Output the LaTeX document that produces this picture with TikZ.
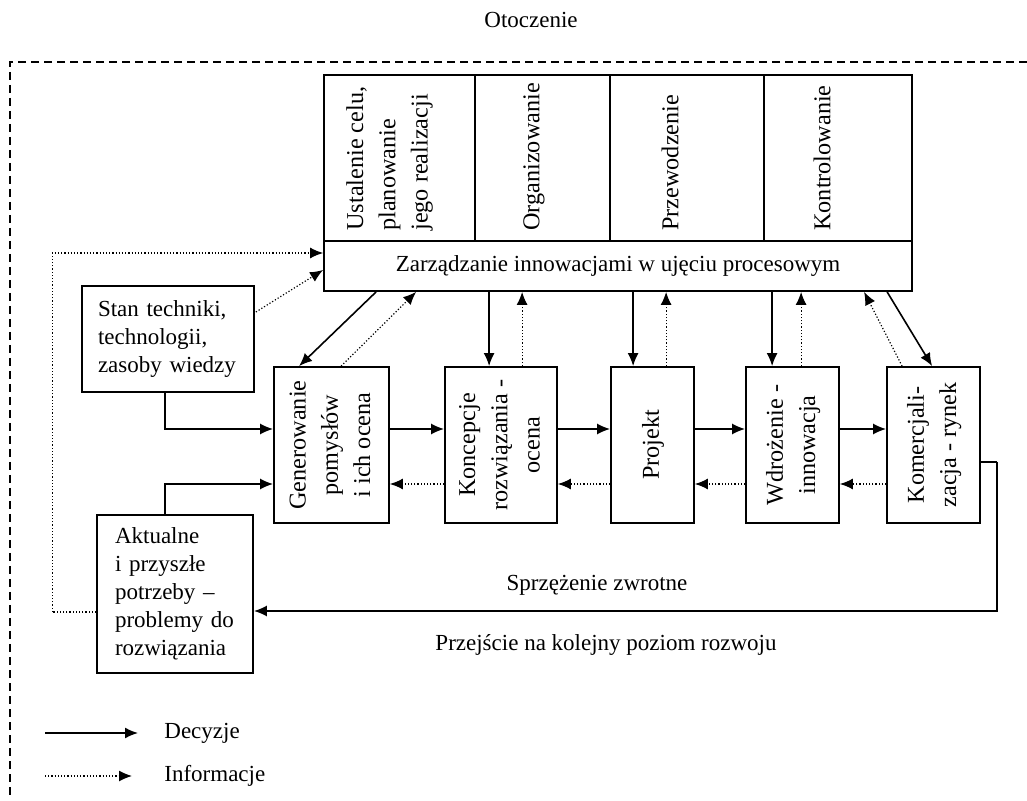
\documentclass[tikz,border=0pt]{standalone}
\usepackage{fontspec}
\setmainfont{Liberation Serif}
\usetikzlibrary{arrows.meta,calc}
% vertical (rotated) multi-line text
\newcommand{\vtext}[2][c]{\rotatebox{90}{\fontsize{12.1}{14}\selectfont\renewcommand{\arraystretch}{1.15}\begin{tabular}{@{}#1@{}}#2\end{tabular}}}

\begin{document}
\begin{tikzpicture}[x=0.5pt,y=-0.5pt,
  every node/.style={font=\fontsize{11.5}{14}\selectfont},
  box/.style={draw, line width=0.9pt, inner sep=0pt},
  label/.style={inner sep=0pt},
  dec/.style={line width=0.8pt, -{Latex[length=6.5pt,width=5.5pt]}},
  inf/.style={line width=0.6pt, dash pattern=on 0.6pt off 1pt, -{Latex[length=6.5pt,width=5.5pt]}},
  fb/.style={line width=0.8pt},
  frame/.style={line width=0.6pt, dash pattern=on 4pt off 2.5pt}]
\useasboundingbox (0,0) rectangle (1027,801);

% environment frame
\node[label] (env) at (531,20) {Otoczenie};
\draw[frame] (1027,62) -- (10,62) -- (10,795);

% management functions
\node[box, minimum width=75.5pt, minimum height=83pt] (c1) at (399.5,158) {};
\node[box, minimum width=67.5pt, minimum height=83pt] (c2) at (542.5,158) {};
\node[box, minimum width=77pt, minimum height=83pt] (c3) at (687,158) {};
\node[box, minimum width=74pt, minimum height=83pt] (c4) at (838,158) {};
\node[label, anchor=south] (t1) at (389,231) {\vtext[l]{Ustalenie celu,\\planowanie\\jego realizacji}};
\node[label, anchor=south] (t2) at (533,231) {\vtext{Organizowanie}};
\node[label, anchor=south] (t3) at (672,231) {\vtext{Przewodzenie}};
\node[label, anchor=south] (t4) at (824,231) {\vtext{Kontrolowanie}};
\node[box, minimum width=294pt, minimum height=25pt] (bar) at (618,266) {Zarządzanie innowacjami w ujęciu procesowym};

% innovation process stages
\node[box, minimum width=57.5pt, minimum height=78pt] (gen) at (331.5,445) {\vtext{Generowanie\\pomysłów\\i ich ocena}};
\node[box, minimum width=56pt, minimum height=78pt] (konc) at (501,445) {\vtext{Koncepcje\\rozwiązania -\\ocena}};
\node[box, minimum width=41.5pt, minimum height=78pt] (proj) at (652.5,445) {\vtext{Projekt}};
\node[box, minimum width=46.5pt, minimum height=78pt] (wdr) at (792.5,445) {\vtext{Wdrożenie -\\innowacja}};
\node[box, minimum width=46.5pt, minimum height=78pt] (kom) at (933.5,445) {\vtext{Komercjali-\\zacja - rynek}};

% inputs
\node[box, minimum width=86pt, minimum height=53pt, text width=70pt, align=left, inner xsep=8pt] (stan) at (168,339) {Stan techniki,\\technologii,\\zasoby wiedzy};
\node[box, minimum width=78pt, minimum height=79pt, text width=60pt, align=left, inner xsep=9pt] (akt) at (175,594) {Aktualne\\i przyszłe\\potrzeby –\\problemy do\\rozwiązania};

% decisions and information between management and stages
\draw[dec] ($(bar.south west)+(53,0)$) -- ($(gen.north west)+(26,0)$);
\draw[inf] ($(gen.north west)+(68,0)$) -- ($(bar.south west)+(93,0)$);
\draw[dec] ($(bar.south west)+(166,0)$) -- ($(konc.north west)+(45,0)$);
\draw[inf] ($(konc.north west)+(78,0)$) -- ($(bar.south west)+(199,0)$);
\draw[dec] ($(bar.south west)+(310,0)$) -- ($(proj.north west)+(23,0)$);
\draw[inf] ($(proj.north west)+(56,0)$) -- ($(bar.south west)+(343,0)$);
\draw[dec] ($(bar.south west)+(449,0)$) -- ($(wdr.north west)+(27,0)$);
\draw[inf] ($(wdr.north west)+(56,0)$) -- ($(bar.south west)+(478,0)$);
\draw[inf] ($(kom.north west)+(16,0)$) -- ($(bar.south west)+(541,0)$);
\draw[dec] ($(bar.south west)+(564,0)$) -- ($(kom.north west)+(46,0)$);

% flow between stages
\draw[dec] ($(gen.east)+(0,-16)$) -- ($(konc.west)+(0,-16)$);
\draw[dec] ($(konc.east)+(0,-16)$) -- ($(proj.west)+(0,-16)$);
\draw[dec] ($(proj.east)+(0,-16)$) -- ($(wdr.west)+(0,-16)$);
\draw[dec] ($(wdr.east)+(0,-16)$) -- ($(kom.west)+(0,-16)$);
\draw[inf] ($(konc.west)+(0,39)$) -- ($(gen.east)+(0,39)$);
\draw[inf] ($(proj.west)+(0,39)$) -- ($(konc.east)+(0,39)$);
\draw[inf] ($(wdr.west)+(0,39)$) -- ($(proj.east)+(0,39)$);
\draw[inf] ($(kom.west)+(0,39)$) -- ($(wdr.east)+(0,39)$);

% inputs into the first stage
\draw[dec] ($(stan.south)+(-3,0)$) |- ($(gen.west)+(0,-16)$);
\draw[dec] ($(akt.north)+(-10,0)$) |- ($(gen.west)+(0,39)$);

% information to management
\draw[inf] ($(stan.east)+(1,-27)$) -- ($(bar.west)+(0,4)$);
\draw[inf, -] ($(akt.west)+(0,18)$) -- ++(-44,0) coordinate (lp);
\draw[inf] (lp) |- ($(bar.west)+(0,-13)$);

% feedback loop
\draw[fb] ($(kom.east)+(0,17)$) -- ++(16,0) coordinate (fbc);
\draw[dec] (fbc) |- ($(akt.east)+(0,17)$);
\node[label] (fbl) at (597,585) {Sprzężenie zwrotne};
\node[label] (lvl) at (606,645) {Przejście na kolejny poziom rozwoju};

% legend
\coordinate (la1) at (45,733);
\coordinate (lb1) at (138,733);
\coordinate (la2) at (45,776);
\coordinate (lb2) at (132,776);
\draw[dec] (la1) -- (lb1);
\draw[inf] (la2) -- (lb2);
\node[label, anchor=west] (ld) at (164,733) {Decyzje};
\node[label, anchor=west] (li) at (164,776) {Informacje};
\end{tikzpicture}
\end{document}
